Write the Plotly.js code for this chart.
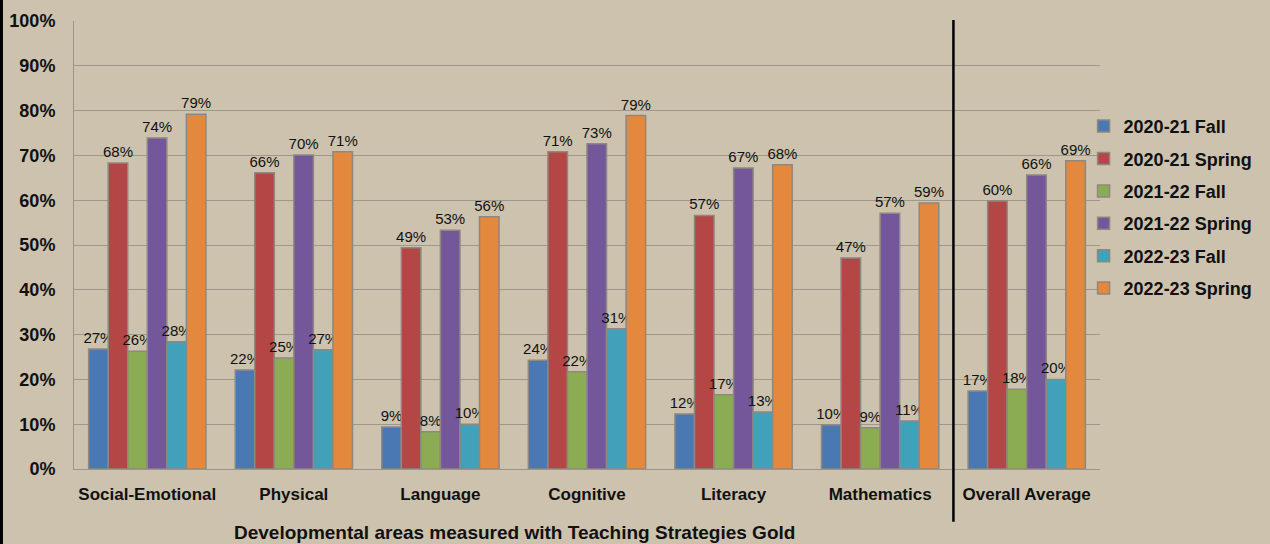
<!DOCTYPE html>
<html>
<head>
<meta charset="utf-8">
<script src="https://cdn.plot.ly/plotly-3.0.1.min.js"></script>
<style>
    html, body { margin: 0; padding: 0; background: #ccc2ad; }
    #chart { width: 1270px; height: 544px; }
</style>
</head>
<body>
<div id="chart"></div>
<script>
// Developmental areas (categories)
const areas = ['Social-Emotional', 'Physical', 'Language', 'Cognitive', 'Literacy', 'Mathematics', 'Overall Average'];

// Series values, percent of children meeting expectations
const fall2021   = [26.8, 22.1, 9.4, 24.3, 12.3, 9.8, 17.4];
const spring2021 = [68.3, 66.1, 49.4, 70.8, 56.6, 47.1, 59.8];
const fall2122   = [26.3, 24.8, 8.3, 21.7, 16.6, 9.2, 17.8];
const spring2122 = [73.9, 70.1, 53.3, 72.6, 67.2, 57.1, 65.6];
const fall2223   = [28.4, 26.6, 10.0, 31.3, 12.7, 10.7, 20.0];
const spring2223 = [79.2, 70.8, 56.3, 78.9, 67.9, 59.4, 68.8];

const seriesNames = ['2020-21 Fall', '2020-21 Spring', '2021-22 Fall', '2021-22 Spring', '2022-23 Fall', '2022-23 Spring'];
const seriesValues = [fall2021, spring2021, fall2122, spring2122, fall2223, spring2223];
const seriesColors = ['#4a78b3', '#b44646', '#8cac54', '#74579a', '#41a0ba', '#e3883d'];

const fontFamily = '"Liberation Sans", Arial, sans-serif';

const traces = seriesNames.map((name, i) => ({
    type: 'bar',
    name: name,
    x: areas,
    y: seriesValues[i],
    legendgroup: 'g' + i,
    marker: {
        color: seriesColors[i],
        line: { color: '#8d8880', width: 1.5 }
    },
    texttemplate: '%{y:.0f}%',
    textposition: 'outside',
    textangle: 0,
    constraintext: 'none',
    cliponaxis: false,
    textfont: { family: fontFamily, size: 15, color: '#111' },
    hoverinfo: 'skip'
}));

const layout = {
    width: 1270,
    height: 544,
    paper_bgcolor: '#ccc2ad',
    plot_bgcolor: '#ccc2ad',
    margin: { l: 74, r: 170, t: 21, b: 75, autoexpand: false },
    barmode: 'group',
    bargap: 0.2,
    bargroupgap: 0,
    font: { family: fontFamily, color: '#111' },
    xaxis: {
        type: 'category',
        showline: true,
        linecolor: '#9a948a',
        linewidth: 1,
        ticks: '',
        ticklabelstandoff: 10,
        tickfont: { family: fontFamily, size: 17, color: '#111', weight: 'bold' }
    },
    yaxis: {
        range: [0, 100],
        dtick: 10,
        ticksuffix: '%',
        showline: true,
        linecolor: '#9a948a',
        linewidth: 1,
        gridcolor: '#9d978c',
        gridwidth: 1,
        zeroline: false,
        ticks: '',
        ticklabelstandoff: 14,
        tickfont: { family: fontFamily, size: 18, color: '#111', weight: 'bold' }
    },
    legend: {
        x: 0.984,
        xanchor: 'left',
        y: 0.806,
        yanchor: 'top',
        traceorder: 'grouped',
        tracegroupgap: 6,
        bgcolor: 'rgba(0,0,0,0)',
        font: { family: fontFamily, size: 18, color: '#111', weight: 'bold' }
    },
    shapes: [
        // divider before Overall Average
        {
            type: 'line', xref: 'x', yref: 'paper',
            x0: 5.5, x1: 5.5, y0: -0.118, y1: 1.002,
            line: { color: '#000', width: 2.5 }
        },
        // left frame edge
        {
            type: 'line', xref: 'paper', yref: 'paper',
            x0: -0.0707, x1: -0.0707, y0: -0.2, y1: 1.1,
            line: { color: '#000', width: 3 }
        }
    ],
    annotations: [{
        text: 'Developmental areas measured with Teaching Strategies Gold',
        xref: 'paper', yref: 'paper',
        x: 0.429, y: -0.113,
        xanchor: 'center', yanchor: 'top',
        showarrow: false,
        font: { family: fontFamily, size: 19, color: '#111', weight: 'bold' }
    }]
};

Plotly.newPlot('chart', traces, layout, { displayModeBar: false, responsive: false });
</script>
</body>
</html>
